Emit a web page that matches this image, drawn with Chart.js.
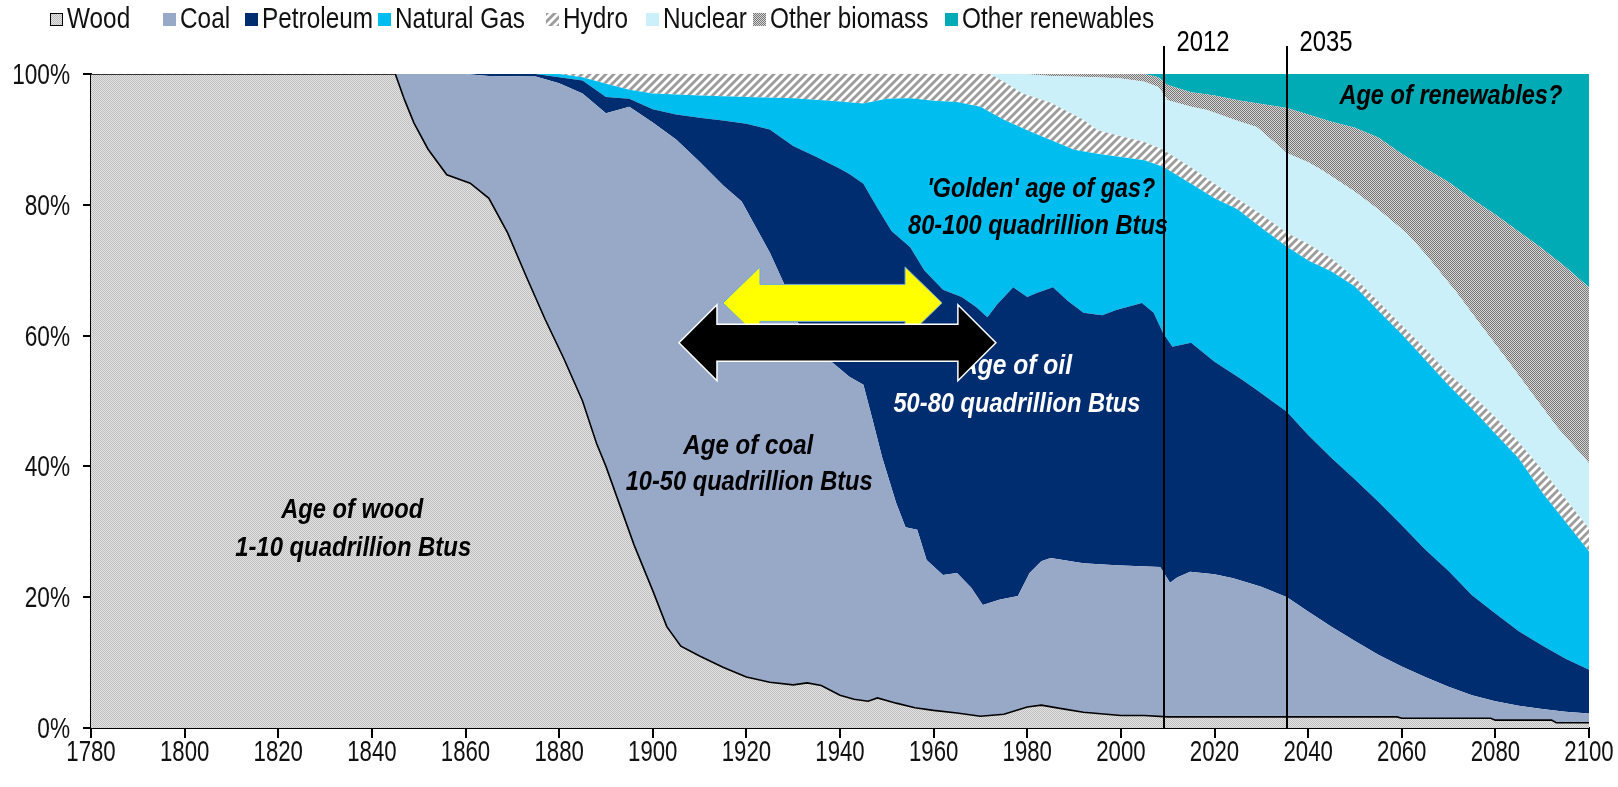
<!DOCTYPE html>
<html>
<head>
<meta charset="utf-8">
<script src="https://cdn.jsdelivr.net/npm/chart.js@4.4.1/dist/chart.umd.min.js"></script>
<style>
html,body{margin:0;padding:0;background:#fff;overflow:hidden}
#wrap{width:1618px;height:787px}
</style>
</head>
<body>
<div id="wrap"><canvas id="chart" width="1618" height="787"></canvas></div>
<script>
// --- data: upper edge of each band, % of world energy, [year, %]
const seriesNames=['Wood','Coal','Petroleum','Natural Gas','Hydro','Nuclear','Other biomass','Other renewables'];

const woodTop=[[1780,100],[1845,100],[1847,96],[1849,92.5],[1852,88.5],[1856,84.6],[1861,83.3],[1865,81],[1869,75.7],[1873,69],[1877,62.5],[1881,56.5],[1885,50],[1888,43.5],[1890,40],[1893,34],[1896,28],[1900,21],[1903,15.5],[1906,12.5],[1910,11],[1915,9.3],[1920,7.8],[1925,7],[1930,6.6],[1933,6.9],[1936,6.5],[1940,5],[1943,4.4],[1946,4.1],[1948,4.6],[1952,3.8],[1956,3.1],[1960,2.7],[1965,2.3],[1970,1.8],[1975,2.1],[1980,3.2],[1983,3.5],[1987,3],[1992,2.4],[2000,1.9],[2005,1.9],[2010,1.7],[2059,1.7],[2060,1.5],[2079,1.5],[2080,1.2],[2092,1.2],[2093,0.8],[2100,0.8]];

const coalTop=[[1780,100],[1860,100],[1865,99.7],[1875,99.6],[1880,98.6],[1885,97],[1890,94],[1895,95],[1900,92.6],[1905,90],[1910,86.6],[1915,83],[1919,80.5],[1922,76.6],[1925,72.7],[1928,68],[1931,62],[1935,57.5],[1938.5,55.8],[1942,53.7],[1945,52.5],[1947,47],[1949,41.4],[1952,34.4],[1954,30.7],[1956.5,30.3],[1958.5,25.7],[1962,23.4],[1965,23.7],[1968,21.5],[1970.5,18.8],[1974,19.6],[1978,20.2],[1980.5,23.7],[1983,25.5],[1985,26],[1992,25.2],[1999,24.9],[2008.4,24.6],[2010.5,22.2],[2012,23],[2014.8,23.9],[2020,23.5],[2024,22.9],[2030,21.6],[2035.5,20],[2040,17.8],[2045,15.5],[2050,13.3],[2055,11.2],[2060,9.4],[2065,7.8],[2070,6.3],[2075,5],[2080,4.1],[2085,3.4],[2090,2.9],[2095,2.5],[2100,2.2]];

const petroleumTop=[[1780,100],[1875,100],[1880,99.5],[1885,99],[1890,96.5],[1895,96.2],[1900,94.6],[1905,93.8],[1910,93.3],[1915,92.9],[1920,92.4],[1925,91.5],[1930,89],[1935,87.3],[1940,85.5],[1942,84.7],[1945,83.2],[1948,79.5],[1951,76],[1955,73.5],[1958,70],[1962,67],[1966,65.9],[1969,64.4],[1971.5,62.8],[1973.5,64.7],[1977,67.4],[1980,65.9],[1982,66.5],[1985.5,67.4],[1988.5,65.4],[1992,63.5],[1996,63.1],[1999,63.9],[2004.5,65],[2007,63.5],[2009,60.4],[2011,58.3],[2015,58.9],[2020,56],[2026,53.2],[2030,51.2],[2035.5,48.3],[2040,44.8],[2045,41.3],[2050,38],[2055,34.6],[2060,31],[2065,27.3],[2070,24],[2075,20.3],[2080,17.5],[2085,14.8],[2090,12.6],[2095,10.6],[2100,8.9]];

const gasTop=[[1780,100],[1880,100],[1885,99.5],[1890,98.5],[1895,97.6],[1900,97],[1910,96.7],[1920,96.5],[1930,96.3],[1940,95.8],[1945,95.5],[1950,96.2],[1955,96.3],[1960,95.9],[1965,95.7],[1970,95],[1975,93],[1980,91.4],[1985,89.9],[1990,88.4],[1995,87.8],[2000,87.3],[2005,86.8],[2009,85.8],[2015,83.2],[2020,81],[2025,79.3],[2030,76.5],[2035.5,73.6],[2040,71.5],[2045,69.8],[2050,67.5],[2055,63.8],[2060,60.2],[2065,56.3],[2070,52.4],[2075,48.8],[2080,45],[2085,41.2],[2090,36],[2095,31.5],[2100,27]];

const hydroTop=[[1780,100],[1972,100],[1975,98.8],[1979,97],[1985,95.6],[1992,93],[1995,91.4],[2000,90.5],[2005,89.6],[2009,88.4],[2015,85.7],[2020,83.2],[2025,80.9],[2030,78.5],[2035.5,75.7],[2040,74],[2045,71.8],[2050,68.8],[2055,65.2],[2060,61.6],[2065,58],[2070,54.2],[2075,51],[2080,47.5],[2085,43.7],[2090,39.5],[2095,35],[2100,30.5]];

const nuclearTop=[[1780,100],[1979,100],[1985,99.7],[1995,99.5],[2000,99.3],[2005,98.8],[2008,98],[2010,96],[2015,95],[2018.4,94.5],[2025,92.8],[2029,91.9],[2035.5,87.9],[2040,86.5],[2043,85.3],[2050,82],[2055,79.3],[2061,75.7],[2065,72.5],[2071.8,66.5],[2077,61.5],[2082.5,56.3],[2088,51],[2093.2,46],[2100,40.5]];

const biomassTop=[[1780,100],[2005,100],[2008,99.5],[2010,98.3],[2015,97.2],[2020,96.7],[2025,96],[2030,95.4],[2035.5,94.8],[2040,93.8],[2045,92.7],[2050,91.8],[2055,90.3],[2060,87.8],[2065,85.6],[2070,83.5],[2075,80.9],[2080,78.5],[2085,75.9],[2090,73.3],[2095,70.5],[2100,67.4]];

const renewablesTop=[[1780,100],[2100,100]];

const yearMin=1780, yearMax=2100, yearStep=20;
const pctTicks=[0,20,40,60,80,100];
const markerYears=[2009.2,2035.5];
const markerLabels=['2012','2035'];

// --- styles
const SANS="'Liberation Sans',Arial,sans-serif";

function pattern(size,draw){
  const c=document.createElement('canvas');c.width=size;c.height=size;
  const g=c.getContext('2d');draw(g,size);
  return document.getElementById('chart').getContext('2d').createPattern(c,'repeat');
}
const woodFill=pattern(2,(g)=>{g.fillStyle='#e4e4e4';g.fillRect(0,0,2,2);g.fillStyle='#bdbdbd';g.fillRect(0,0,1,1);g.fillRect(1,1,1,1);});
const hydroFill=pattern(8,(g,s)=>{g.fillStyle='#fff';g.fillRect(0,0,s,s);g.strokeStyle='#9c9c9c';g.lineWidth=2.8;
  [[-2,2,2,-2],[0,8,8,0],[6,10,10,6]].forEach(l=>{g.beginPath();g.moveTo(l[0],l[1]);g.lineTo(l[2],l[3]);g.stroke();});});
const biomassFill=pattern(2,(g)=>{g.fillStyle='#d6d6d6';g.fillRect(0,0,2,2);g.fillStyle='#767676';g.fillRect(0,0,1,1);g.fillRect(1,1,1,1);});

const colors=[woodFill,'#98a9c8','#002c70','#00bdf0',hydroFill,'#ccf0fa',biomassFill,'#00abb5'];
const tops=[woodTop,coalTop,petroleumTop,gasTop,hydroTop,nuclearTop,biomassTop,renewablesTop];

const legendTextX=[67,180,262,395,563,663,770,962];

const notes=[
  ['Age of wood',1835.8,33.3,142,'#000'],
  ['1-10 quadrillion Btus',1836,27.4,236,'#000'],
  ['Age of coal',1920.4,43.1,130,'#000'],
  ['10-50 quadrillion Btus',1920.6,37.6,247,'#000'],
  ["'Golden' age of gas?",1983,82.3,228,'#000'],
  ['80-100 quadrillion Btus',1982.3,76.6,260,'#000'],
  ['Age of oil',1977.6,55.2,112,'#fff'],
  ['50-80 quadrillion Btus',1977.8,49.4,247,'#fff'],
  ['Age of renewables?',2070.5,96.5,223,'#000']
];
const arrows=[
  {from:1915,to:1961.8,at:65,head:37,half:36,shaft:18.5,fill:'#ffff00',edge:'#6fa8dc',lw:1},
  {from:1905.6,to:1973.3,at:58.9,head:38,half:38,shaft:18.5,fill:'#000',edge:'#fff',lw:1.5}
];

function scaledText(ctx,txt,x,y,sx,font,align,color){
  ctx.save();ctx.font=font;ctx.translate(x,y);ctx.scale(sx,1);
  ctx.fillStyle=color;ctx.textAlign=align;ctx.textBaseline='middle';
  ctx.fillText(txt,0,0);ctx.restore();
}
function fitText(ctx,txt,cx,cy,w,font,color){
  ctx.save();ctx.font=font;
  const m=ctx.measureText(txt).width;
  ctx.restore();
  scaledText(ctx,txt,cx,cy,w/m,font,'center',color);
}
function doubleArrow(ctx,x1,x2,y,a){
  ctx.save();ctx.beginPath();
  ctx.moveTo(x1,y);ctx.lineTo(x1+a.head,y-a.half);ctx.lineTo(x1+a.head,y-a.shaft);
  ctx.lineTo(x2-a.head,y-a.shaft);ctx.lineTo(x2-a.head,y-a.half);ctx.lineTo(x2,y);
  ctx.lineTo(x2-a.head,y+a.half);ctx.lineTo(x2-a.head,y+a.shaft);ctx.lineTo(x1+a.head,y+a.shaft);
  ctx.lineTo(x1+a.head,y+a.half);ctx.closePath();
  ctx.fillStyle=a.fill;ctx.fill();ctx.strokeStyle=a.edge;ctx.lineWidth=a.lw;ctx.stroke();ctx.restore();
}

const overlay={
  id:'overlay',
  afterDatasetsDraw(chart){
    const {ctx,scales:{x,y}}=chart;
    ctx.save();ctx.strokeStyle='#000';ctx.lineWidth=2;
    markerYears.forEach((yr,i)=>{
      const px=Math.round(x.getPixelForValue(yr));
      ctx.beginPath();ctx.moveTo(px,46);ctx.lineTo(px,y.getPixelForValue(0));ctx.stroke();
      fitText(ctx,markerLabels[i],px+39,43,53,'30px '+SANS,'#000');
    });
    ctx.restore();
    notes.forEach(n=>fitText(ctx,n[0],x.getPixelForValue(n[1]),y.getPixelForValue(n[2]),n[3],'italic bold 27px '+SANS,n[4]));
    arrows.forEach(a=>doubleArrow(ctx,x.getPixelForValue(a.from),x.getPixelForValue(a.to),y.getPixelForValue(a.at),a));
  },
  afterDraw(chart){
    const {ctx,scales:{x,y}}=chart;
    // axis labels in a narrow face
    x.ticks.forEach(t=>scaledText(ctx,String(t.value),x.getPixelForValue(t.value),753,0.74,'30px '+SANS,'center','#111'));
    y.ticks.forEach(t=>scaledText(ctx,t.value+'%',70,y.getPixelForValue(t.value)+2,0.78,'29px '+SANS,'right','#111'));
    // legend
    seriesNames.forEach((name,i)=>{
      const bx=legendTextX[i]-17;
      ctx.fillStyle=colors[i];ctx.fillRect(bx,13,13,13);
      if(i===0){ctx.strokeStyle='#000';ctx.lineWidth=1;ctx.strokeRect(bx+0.5,13.5,12,12);}
      scaledText(ctx,name,legendTextX[i],20,0.84,'29px '+SANS,'left','#111');
    });
  }
};

new Chart(document.getElementById('chart'),{
  type:'line',
  data:{datasets:tops.map((t,i)=>({
    label:seriesNames[i],
    data:t.map(p=>({x:p[0],y:p[1]})),
    backgroundColor:colors[i],
    borderColor:i===0?'#000':'rgba(0,0,0,0)',
    borderWidth:i===0?1.6:0,
    fill:i===0?'origin':'-1',
    pointRadius:0,tension:0
  }))},
  options:{
    responsive:false,animation:false,
    layout:{padding:{top:74,right:29,left:0,bottom:0}},
    plugins:{legend:{display:false},tooltip:{enabled:false},filler:{propagate:false}},
    scales:{
      x:{type:'linear',min:yearMin,max:yearMax,
        afterFit:s=>{s.height=59;},
        grid:{drawOnChartArea:false,color:'#000',lineWidth:2,tickLength:10},
        border:{color:'#000',width:2},
        ticks:{stepSize:yearStep,autoSkip:false,maxRotation:0,padding:3,color:'rgba(0,0,0,0)',font:{family:SANS,size:22},callback:v=>String(v)}},
      y:{min:0,max:100,
        afterFit:s=>{s.width=91;},
        afterBuildTicks:s=>{s.ticks=pctTicks.map(v=>({value:v}));},
        grid:{drawOnChartArea:false,color:'#000',lineWidth:2,tickLength:8},
        border:{color:'#000',width:2},
        ticks:{padding:12,color:'rgba(0,0,0,0)',font:{family:SANS,size:22},callback:v=>v+'%'}}
    }
  },
  plugins:[overlay]
});
</script>
</body>
</html>
